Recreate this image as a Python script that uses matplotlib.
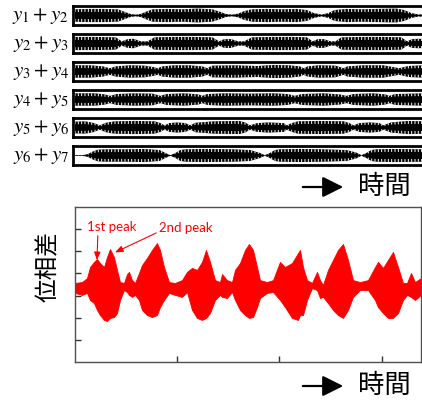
import matplotlib
matplotlib.use("Agg")
import matplotlib.pyplot as plt
import numpy as np

plt.rcParams['mathtext.fontset'] = 'stix'
plt.rcParams['hatch.linewidth'] = 0.7

# ---------------- top strips: envelope key points (time px offset, relative amplitude) -------------
strip_labels = ["$y_1 + y_2$", "$y_2 + y_3$", "$y_3 + y_4$",
                "$y_4 + y_5$", "$y_5 + y_6$", "$y_6 + y_7$"]

row1_t = [0, 13, 28, 43, 50, 56, 61, 66, 71, 78, 93, 108, 123, 138, 146, 152, 158, 164, 170, 178,
          193, 208, 223, 233, 240, 248, 255, 261, 273, 288, 303, 323, 331, 338, 346, 352]
row1_a = [0.85, 0.9, 0.9, 0.85, 0.5, 0.2, 0.12, 0.2, 0.5, 0.85, 0.9, 0.85, 0.95, 0.85, 0.5, 0.2,
          0.12, 0.25, 0.6, 0.85, 0.9, 0.85, 0.9, 0.75, 0.35, 0.12, 0.35, 0.75, 0.9, 0.85, 0.9,
          0.95, 0.75, 0.35, 0.12, 0.3]

row2_t = [0, 20, 41, 47, 53, 59, 66, 73, 80, 100, 120, 138, 145, 150, 157, 164, 170, 178, 198,
          218, 233, 239, 244, 250, 257, 262, 268, 288, 310, 328, 334, 339, 345, 352]
row2_a = [0.9, 0.9, 0.85, 0.3, 0.6, 0.65, 0.3, 0.3, 0.85, 0.9, 0.9, 0.85, 0.3, 0.6, 0.6, 0.3,
          0.3, 0.85, 0.9, 0.9, 0.85, 0.3, 0.6, 0.6, 0.3, 0.3, 0.85, 0.9, 0.9, 0.85, 0.3, 0.6,
          0.65, 0.6]

row3_t = [0, 15, 28, 35, 41, 55, 70, 79, 83, 88, 100, 115, 128, 133, 138, 160, 183, 200, 215,
          226, 230, 234, 245, 262, 270, 274, 290, 310, 320, 326, 335, 350]
row3_a = [0.85, 0.85, 0.7, 0.45, 0.7, 0.85, 0.8, 0.6, 0.45, 0.7, 0.85, 0.85, 0.7, 0.45, 0.8,
          0.85, 0.75, 0.9, 0.85, 0.7, 0.45, 0.7, 0.85, 0.8, 0.45, 0.7, 0.85, 0.85, 0.6, 0.45,
          0.75, 0.85]

row4_t = [0, 20, 30, 35, 42, 60, 78, 86, 92, 110, 124, 128, 133, 150, 175, 200, 214, 221, 228,
          250, 266, 273, 280, 300, 312, 316, 322, 350]
row4_a = [0.85, 0.85, 0.7, 0.5, 0.75, 0.85, 0.8, 0.5, 0.75, 0.85, 0.7, 0.5, 0.75, 0.85, 0.8,
          0.85, 0.75, 0.5, 0.75, 0.85, 0.7, 0.5, 0.75, 0.85, 0.7, 0.5, 0.75, 0.85]

row5_t = [0, 10, 18, 25, 31, 40, 60, 80, 86, 90, 95, 103, 111, 116, 121, 140, 165, 171, 176,
          183, 195, 210, 213, 218, 224, 245, 270, 276, 280, 286, 296, 306, 310, 318, 335, 350]
row5_a = [0.8, 0.85, 0.65, 0.3, 0.65, 0.85, 0.9, 0.85, 0.6, 0.3, 0.6, 0.7, 0.6, 0.3, 0.65, 0.85,
          0.9, 0.7, 0.3, 0.6, 0.7, 0.6, 0.3, 0.6, 0.85, 0.9, 0.85, 0.6, 0.3, 0.6, 0.7, 0.6, 0.3,
          0.7, 0.9, 0.85]

row6_t = [0, 8, 13, 18, 23, 30, 50, 70, 85, 91, 96, 101, 106, 111, 130, 160, 176, 186, 191,
          196, 201, 206, 226, 250, 273, 283, 288, 293, 298, 303, 320, 350]
row6_a = [0.05, 0.05, 0.2, 0.55, 0.8, 0.85, 0.85, 0.9, 0.75, 0.35, 0.04, 0.35, 0.75, 0.85, 0.9,
          0.85, 0.75, 0.35, 0.04, 0.35, 0.75, 0.85, 0.9, 0.85, 0.75, 0.4, 0.04, 0.35, 0.75,
          0.85, 0.9, 0.85]

rows_t = [row1_t, row2_t, row3_t, row4_t, row5_t, row6_t]
rows_a = [row1_a, row2_a, row3_a, row4_a, row5_a, row6_a]

# ---------------- bottom panel: phase difference envelope (time, upper, lower) -------------
pd_t = [0, 7, 12, 15, 19, 22, 25, 29, 32, 35, 39, 42, 45, 49, 52, 54, 57, 60, 64, 67, 72, 77,
        82, 85, 89, 94, 100, 107, 112, 117, 122, 127, 131, 135, 140, 145, 147, 152, 157, 160,
        165, 170, 174, 178, 182, 185, 192, 198, 205, 210, 217, 223, 225, 228, 232, 237, 242,
        245, 248, 253, 258, 263, 268, 273, 278, 285, 293, 300, 303, 308, 313, 318, 323, 328,
        332, 336, 340, 346]
pd_up = [3.57, 3.61, 3.79, 4.29, 4.52, 4.65, 4.47, 4.29, 4.74, 5.10, 4.74, 4.16, 3.61, 3.57,
         3.97, 4.07, 3.70, 3.57, 4.02, 4.38, 4.70, 5.06, 5.37, 5.06, 4.29, 3.61, 3.57, 3.70,
         4.07, 4.25, 4.16, 4.52, 5.06, 4.52, 3.70, 3.61, 3.97, 3.70, 3.61, 4.16, 4.47, 5.06,
         5.33, 5.06, 4.29, 3.70, 3.61, 3.70, 4.52, 4.29, 4.47, 4.92, 5.06, 4.29, 3.70, 3.57,
         4.07, 3.70, 3.48, 4.16, 4.61, 5.06, 5.33, 4.61, 3.70, 3.61, 3.70, 4.29, 4.52, 4.25,
         4.61, 4.97, 4.29, 3.57, 3.57, 4.02, 3.61, 3.79]
pd_lo = [3.12, 3.03, 3.12, 2.80, 2.66, 2.35, 2.12, 1.90, 1.85, 1.99, 2.03, 2.21, 2.80, 3.25,
         3.16, 3.03, 2.94, 3.03, 2.80, 2.35, 2.12, 2.03, 2.12, 2.48, 2.80, 3.12, 3.03, 2.94,
         3.16, 2.35, 1.99, 1.90, 1.99, 2.21, 2.80, 3.03, 2.94, 2.89, 3.16, 2.80, 2.35, 2.12,
         1.99, 2.03, 2.48, 2.89, 3.12, 3.16, 2.80, 2.48, 1.99, 1.90, 2.12, 2.12, 2.80, 3.34,
         3.25, 2.89, 2.94, 2.66, 2.35, 2.12, 1.99, 2.35, 2.94, 3.25, 3.25, 2.80, 2.48, 2.21,
         1.99, 1.99, 2.21, 2.80, 3.03, 2.94, 2.80, 3.03]
pd_yticks = [1, 2, 3, 4, 5, 6]
pd_xticks = [102, 204, 307]

W, H = 422, 405
fig = plt.figure(figsize=(W / 100, H / 100), dpi=100)

centers = [15.5, 43.5, 71.5, 99.5, 127.5, 155.5]
box_h = 19
for lab, c, tt, aa in zip(strip_labels, centers, rows_t, rows_a):
    ax = fig.add_axes([73 / W, 1 - (c + box_h / 2) / H, 360 / W, box_h / H])
    tt = np.array(tt); aa = np.array(aa)
    ax.fill_between(tt, -aa, aa, facecolor='black', edgecolor='white', hatch='|||||', linewidth=0)
    ax.fill_between(tt, -aa * 0.55, aa * 0.55, facecolor='black', linewidth=0)
    ax.set_xlim(-2, 360)
    ax.set_ylim(-1.3, 1.3)
    ax.set_xticks([]); ax.set_yticks([])
    for s in ax.spines.values():
        s.set_linewidth(2.0)
        s.set_color('black')
    fig.text(69 / W, 1 - (c + 1) / H, lab, ha='right', va='center', fontsize=15)

def time_arrow(y):
    fig.add_artist(matplotlib.patches.FancyArrowPatch(
        (300 / W, 1 - y / H), (346 / W, 1 - y / H), transform=fig.transFigure,
        arrowstyle='-|>,head_length=0.9,head_width=0.45', mutation_scale=14,
        color='black', lw=1.6))
    fig.text(384 / W, 1 - (y - 1) / H, "時間", ha='center', va='center', fontsize=19,
             family=['Noto Sans CJK JP', 'DejaVu Sans'])

time_arrow(187)

ax2 = fig.add_axes([75 / W, 1 - 362 / H, (421 - 75) / W, (362 - 207) / H])
ax2.fill_between(pd_t, pd_lo, pd_up, color='#ff0000', linewidth=0.6, edgecolor='#ff0000')
ax2.set_xlim(0, 346)
ax2.set_ylim(0, 7)
ax2.set_xticks(pd_xticks)
ax2.set_yticks(pd_yticks)
ax2.tick_params(direction='in', length=4, width=1, color='#333333', labelleft=False, labelbottom=False)
for s in ax2.spines.values():
    s.set_linewidth(1.0)
    s.set_color('#505050')

ax2.annotate("1st peak", xy=(22, 4.6), xytext=(12, 6.1), color='red', fontsize=9.5,
             family=['Lato', 'DejaVu Sans'], ha='left', va='center',
             arrowprops=dict(arrowstyle='-|>,head_length=0.5,head_width=0.2', color='red', lw=0.8,
                             shrinkA=0, shrinkB=0, relpos=(0.22, 0.0)))
ax2.annotate("2nd peak", xy=(40, 4.95), xytext=(84, 6.05), color='red', fontsize=9.5,
             family=['Lato', 'DejaVu Sans'], ha='left', va='center',
             arrowprops=dict(arrowstyle='-|>,head_length=0.5,head_width=0.2', color='red', lw=0.8,
                             shrinkA=0, shrinkB=0, relpos=(0.0, 0.2)))

fig.text(48 / W, 1 - 267 / H, "位相差", rotation=90, ha='center', va='center', fontsize=17,
         family=['Noto Sans CJK JP', 'DejaVu Sans'])

time_arrow(386)

fig.savefig("out.png", dpi=100)
